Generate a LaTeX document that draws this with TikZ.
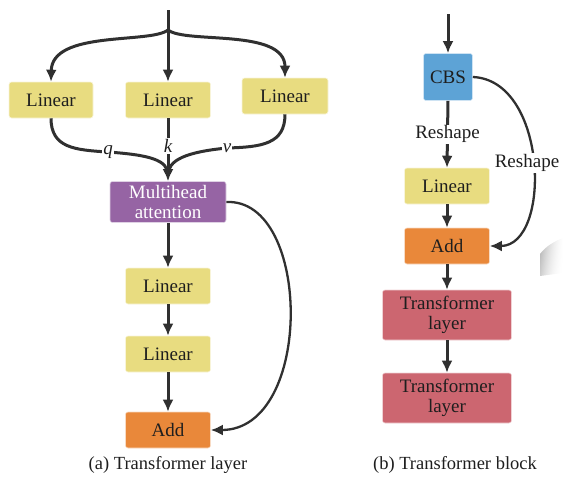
\documentclass[tikz,border=0pt]{standalone}
\usepackage{fontspec}
\setmainfont{Liberation Serif}
\newfontfamily\tms{Liberation Serif}
\usetikzlibrary{arrows.meta,fadings}
\definecolor{linfill}{HTML}{E8DC80}
\definecolor{mhfill}{HTML}{9664A4}
\definecolor{addfill}{HTML}{E9883A}
\definecolor{cbsfill}{HTML}{5DA3D6}
\definecolor{tlfill}{HTML}{CC6670}
\definecolor{wire}{HTML}{303030}
\definecolor{ink}{HTML}{1E1E1E}
\begin{document}
\begin{tikzpicture}[x=1pt,y=-1pt,
  blk/.style={rounded corners=2.5pt, inner sep=0pt, align=center, text=ink,
    font=\tms\fontsize{19}{20}\selectfont, draw=white!70!#1, line width=0.6pt, fill=#1},
  lin/.style={blk=linfill, minimum width=85pt, minimum height=36pt},
  addb/.style={blk=addfill, minimum width=85pt, minimum height=36pt},
  tlb/.style={blk=tlfill, minimum width=129pt, minimum height=50pt},
  wireA/.style={draw=wire, line width=3pt, -{Latex[length=12pt,width=11pt]}},
  wireB/.style={draw=wire, line width=2.3pt, -{Latex[length=12pt,width=11pt]}},
  wireN/.style={draw=wire, line width=3pt},
  lbl/.style={fill=white, inner sep=1pt, text=ink, font=\tms\fontsize{19}{20}\selectfont},
  qkv/.style={lbl, font=\tms\fontsize{19}{20}\selectfont\itshape},
  captxt/.style={text=ink, font=\tms\fontsize{18.5}{20}\selectfont},
]
\useasboundingbox (0,0) rectangle (563,477);

% ---------- (a) Transformer layer ----------
\coordinate (inA) at (168,10);
\coordinate (split) at (168,30);
\node[lin, minimum width=84pt] (lq) at (51,100) {Linear};
\node[lin] (lk) at (168,100) {Linear};
\node[lin, minimum width=86pt] (lv) at (285,96) {Linear};
\node[blk=mhfill, text=white, minimum width=116pt, minimum height=41pt] (mh) at (168,202) {Multihead\\attention};
\node[lin] (la1) at (168,286) {Linear};
\node[lin] (la2) at (168,354) {Linear};
\node[addb] (adda) at (168,430) {Add};

\draw[wireN] (inA) -- (split);
\draw[wireA] (split) .. controls (150,44) and (52,30) .. (lq.north);
\draw[wireA] (split) -- (lk.north);
\draw[wireA] (split) .. controls (186,44) and (285,28) .. (lv.north);

\draw[wireN] (lq.south) .. controls (51,148) and (75,150) .. (108,152)
   .. controls (150,155) and (168,160) .. (168,175);
\draw[wireN] (lv.south) .. controls (285,144) and (262,147) .. (227,148)
   .. controls (186,152) and (168,160) .. (168,175);
\draw[wireA] (lk.south) -- (mh.north);
\node[qkv] at (108,152) {q};
\node[qkv] at (168,146) {k};
\node[qkv] at (227,148) {v};

\draw[wireA] (mh.south) -- (la1.north);
\draw[wireA] (la1.south) -- (la2.north);
\draw[wireA] (la2.south) -- (adda.north);
\draw[wireB] (mh.east) .. controls (312,198) and (314,430) .. (adda.east);

\node[captxt] at (168,465) {(a) Transformer layer};

% ---------- (b) Transformer block ----------
\coordinate (inB) at (448,14);
\node[blk=cbsfill, minimum width=49pt, minimum height=47pt] (cbs) at (448,77) {CBS};
\node[lin] (lb) at (447,186) {Linear};
\node[addb] (addb1) at (447,246) {Add};
\node[tlb] (tl1) at (447,315) {Transformer\\layer};
\node[tlb] (tl2) at (447,398) {Transformer\\layer};

\draw[wireA] (inB) -- (cbs.north);
\draw[wireA] (cbs.south) -- node[lbl, pos=0.5] {Reshape} (lb.north);
\draw[wireA] (lb.south) -- (addb1.north);
\draw[wireB] (cbs.east) .. controls (548,80) and (552,246) .. (addb1.east);
\node[lbl] at (527,163) {Reshape};
\draw[wireA] (addb1.south) -- (tl1.north);
\draw[wireA] (tl1.south) -- (tl2.north);

\node[captxt] at (455,465) {(b) Transformer block};

% soft grey smudge at the right edge
\shade[left color=gray!55, right color=gray!5, shading angle=70,
       path fading=east, fading angle=0]
  (540,254) .. controls (546,246) and (555,241) .. (563,238) -- (563,273) -- (540,276) -- cycle;
\end{tikzpicture}
\end{document}
